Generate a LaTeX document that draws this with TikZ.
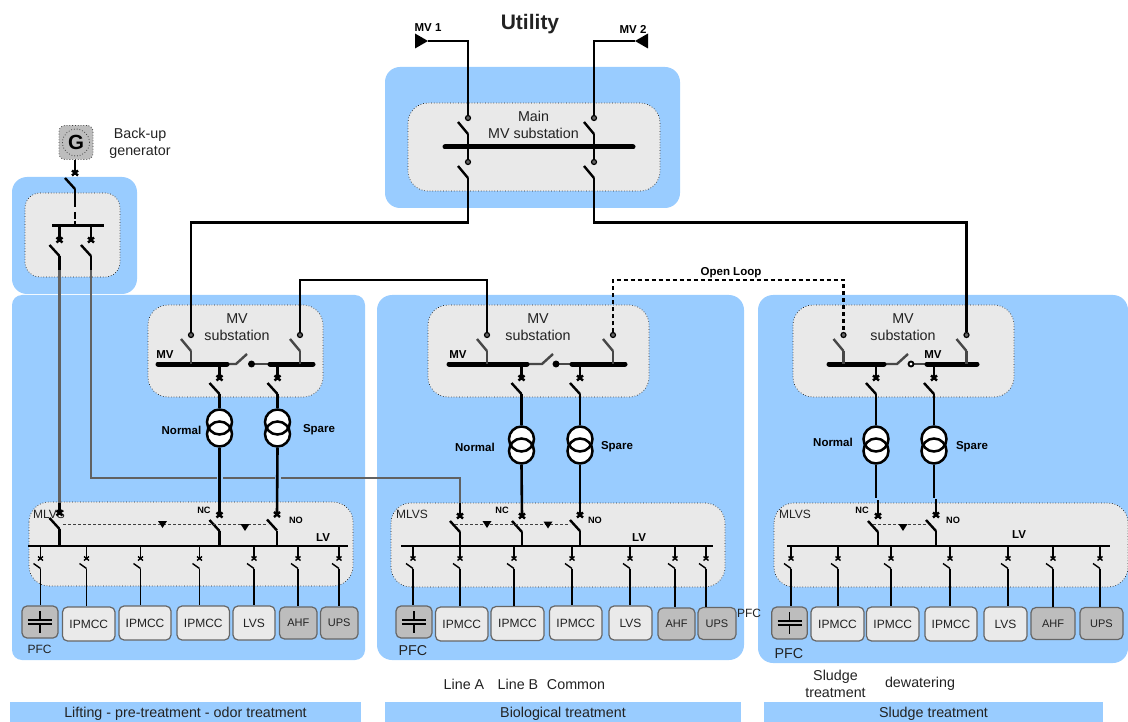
\documentclass[tikz,border=0pt]{standalone}
\usepackage{fontspec}
\setmainfont{Liberation Sans}
\definecolor{panelblue}{HTML}{99CCFF}
\definecolor{panelgrey}{HTML}{E9E9E9}
\definecolor{loaddark}{HTML}{BDBDBD}
\definecolor{loadlight}{HTML}{EAEAEA}
\definecolor{ink}{HTML}{222222}
\begin{document}
\begin{tikzpicture}[x=1pt, y=-1pt,
    bluepanel/.style={fill=panelblue, rounded corners=#1},
    greypanel/.style={fill=panelgrey, draw=ink, line width=.7pt, dotted, rounded corners=#1},
    feedline/.style={draw=black, line width=2.6pt},
    greyline/.style={draw=black!62, line width=2.4pt},
    openline/.style={draw=black, line width=2.4pt, dash pattern=on 4pt off 3pt},
    feeder/.style={draw=black, line width=1.4pt},
    mvbus/.style={draw=black, line width=5pt, line cap=round},
    lvbus/.style={draw=black, line width=2.6pt},
    tiebar/.style={draw=black!72, line width=2.4pt},
    interlock/.style={draw=black!75, line width=.8pt, dash pattern=on 3pt off 2pt},
    crossgap/.style={draw=panelblue, line width=6pt},
    coil/.style={circle, draw=black, line width=2.5pt, minimum size=25pt, inner sep=0pt},
    lbl/.style={text=ink, inner sep=0pt, align=center, font=\fontsize{14.3}{17}\selectfont},
    smalllbl/.style={text=ink, inner sep=0pt, font=\fontsize{12}{14}\selectfont},
    boldlbl/.style={text=black, inner sep=0pt, font=\fontsize{11.5}{14}\selectfont\bfseries},
    tinylbl/.style={text=black, inner sep=0pt, font=\fontsize{9.2}{11}\selectfont\bfseries},
    banner/.style={lbl, fill=panelblue, minimum height=24pt},
    lightload/.style={fill=loadlight, draw=black!60, line width=1.2pt, rounded corners=5pt, inner sep=0pt,
        text=ink, font=\fontsize{12}{14}\selectfont},
    darkload/.style={lightload, fill=loaddark, font=\fontsize{11}{13}\selectfont},
    pics/breaker/.style={code={
        \coordinate (-top) at (0,0);
        \coordinate (-hinge) at (0,16);
        \draw[line width=2.4pt] (-3,-2.5) -- (3,2.5) (-3,2.5) -- (3,-2.5);
        \draw[line width=2.4pt] (-10,5) -- (0,16);
    }},
    pics/feederbrk/.style={code={
        \coordinate (-top) at (0,0);
        \coordinate (-hinge) at (0,10);
        \draw[line width=1.4pt] (-2.5,-2) -- (2.5,2) (-2.5,2) -- (2.5,-2);
        \draw[line width=1.4pt] (-7,5) -- (0,10);
    }},
    pics/isolator/.style={code={
        \coordinate (-dot) at (0,-2.7);
        \coordinate (-hinge) at (0,16);
        \draw[line width=2.4pt, #1] (-10,4) -- (0,16);
        \filldraw[draw=black, fill=black!60, line width=1.2pt] (0,0) circle (2.5pt);
    }},
    pics/lockmark/.style={code={
        \fill[black] (-4.5,-3.5) -- (4.5,-3.5) -- (0,3.5) -- cycle;
    }},
    pics/capsym/.style={code={
        \draw[line width=1.2pt] (-12,-2) -- (12,-2) (-12,2) -- (12,2);
        \draw[line width=1.2pt] (0,-11) -- (0,-2) (0,2) -- (0,11);
    }}
]
    \useasboundingbox (0,0) rectangle (1128,722);

    \fill[bluepanel=15pt] (385,67) rectangle (680,208);
    \fill[bluepanel=15pt] (12,177) rectangle (137,294);
    \fill[bluepanel=10pt] (12,295) rectangle (365,660);
    \fill[bluepanel=15pt] (377,295) rectangle (744,660);
    \fill[bluepanel=15pt] (758,295) rectangle (1128,663);

    \path[greypanel=20pt] (408,103) rectangle (660,191);
    \path[greypanel=15pt] (25,193) rectangle (120,277);
    \foreach \xa/\ya/\xb/\yb in {148/305/323/397, 428/305/649/397, 793/305/1014/397,
        29/502/353/586, 391/503/725/587, 774/503/1128/587} {
        \path[greypanel=20pt] (\xa,\ya) rectangle (\xb,\yb);
    }

    \node[lbl, font=\fontsize{21}{24}\selectfont\bfseries] (utility) at (530,24.5) {Utility};
    \foreach \nm/\cx/\cy/\txt in {main/533.5/125/Main\\MV substation, backup/140/143/Back-up\\generator,
        subA/237/327/MV\\substation, subB/538/327/MV\\substation, subC/903/327/MV\\substation,
        lineA/464/684.5/Line A, lineB/518/684.5/Line B, common/576/684.5/Common,
        sludge/835.5/683.5/Sludge\\treatment, dewater/920/683.5/dewatering,
        pfcB/413/651/PFC, pfcC/789/654/PFC} {
        \node[lbl] (lbl\nm) at (\cx,\cy) {\txt};
    }
    \foreach \nm/\cx/\cy/\txt in {mlvsA/49/514/MLVS, mlvsB/412/514/MLVS, mlvsC/795/514/MLVS,
        pfcA/39.5/649/PFC, pfcX/749/613/PFC} {
        \node[smalllbl] (lbl\nm) at (\cx,\cy) {\txt};
    }
    \foreach \nm/\cx/\cy/\txt in {mv1/428/28/MV 1, mv2/633/29/MV 2, open/731/273/Open Loop,
        mvA/165/355/MV, mvB/458/355/MV, mvC/933/355/MV,
        normalA/181.5/430/Normal, spareA/319/430/Spare,
        normalB/475/447/Normal, spareB/617/447/Spare,
        normalC/833/442/Normal, spareC/972/447/Spare,
        lvA/323/538/LV, lvB/639/538/LV, lvC/1019/535/LV} {
        \node[boldlbl] (lbl\nm) at (\cx,\cy) {\txt};
    }
    \foreach \nm/\cx/\cy/\txt in {ncA/204/510.5/NC, noA/296/520.5/NO, ncB/502/510.5/NC, noB/595/520.5/NO,
        ncC/862/510.5/NC, noC/953/520.5/NO} {
        \node[tinylbl] (lbl\nm) at (\cx,\cy) {\txt};
    }
    \node[banner, minimum width=351pt] (bannerA) at (185.5,714) {Lifting - pre-treatment - odor treatment};
    \node[banner, minimum width=356pt] (bannerB) at (563,714) {Biological treatment};
    \node[banner, minimum width=339pt] (bannerC) at (933.5,714) {Sludge treatment};

    \node[fill=loaddark, draw=black!75, dotted, line width=.8pt, rounded corners=6pt,
        minimum size=34pt, inner sep=0pt] (genset) at (76,142.5) {};
    \node[circle, draw=black!75, dotted, line width=.8pt, minimum size=27pt, inner sep=0pt,
        font=\fontsize{20.5}{24}\selectfont\bfseries] (gencoil) at (genset) {G};

    \fill[black] (415,33.5) -- (428,41) -- (415,48.5) -- cycle;
    \fill[black] (648,33.5) -- (635,41) -- (648,48.5) -- cycle;
    \coordinate (mv1tip) at (428,41);
    \coordinate (mv2tip) at (635,41);
    \foreach \nm/\x/\y in {M1/468/118, M2/594/118, M3/468/162, M4/594/162} {
        \pic (iso\nm) at (\x,\y) {isolator=black};
    }
    \foreach \s/\n/\x in {A/1/191, A/2/300, B/1/487, B/2/613, C/1/843.5, C/2/966.5} {
        \pic (iso\s\n) at (\x,335) {isolator=black!72};
    }
    \coordinate (ringW) at (468,222.5);
    \coordinate (ringE) at (594,222.5);
    \coordinate (ringAB) at (300,280);
    \coordinate (ringBC) at (613,280);
    \draw[feedline] (mv1tip) -| (isoM1-dot);
    \draw[feedline] (mv2tip) -| (isoM2-dot);
    \draw[feedline] (isoM1-hinge) -- (isoM3-dot);
    \draw[feedline] (isoM2-hinge) -- (isoM4-dot);
    \draw[feedline] (isoM3-hinge) -- (ringW) -| (isoA1-dot);
    \draw[feedline] (isoM4-hinge) -- (ringE) -| (isoC2-dot);
    \draw[feedline] (isoA2-dot) -- (ringAB) -| (isoB1-dot);
    \draw[openline] (isoB2-dot) -- (ringBC) -| (isoC1-dot);
    \coordinate (mainbusW) at (445,147);
    \coordinate (mainbusE) at (633,147);
    \draw[mvbus] (mainbusW) -- (mainbusE);

    \foreach \s/\wa/\ea/\hg/\dt/\wb/\eb/\tint in {A/158/227/236/251.5/270/313/black,
        B/449/527/542/556/572/625/black, C/829/884/897/911/927/977/white} {
        \coordinate (mvbus\s1w) at (\wa,364);
        \coordinate (mvbus\s1e) at (\ea,364);
        \coordinate (mvbus\s2w) at (\wb,364);
        \coordinate (mvbus\s2e) at (\eb,364);
        \coordinate (tiehinge\s) at (\hg,364);
        \coordinate (tiedot\s) at (\dt,364);
        \draw[tiebar] (mvbus\s1e) -- (tiehinge\s) -- ++(11,-10);
        \draw[tiebar] (tiedot\s) -- (mvbus\s2w);
        \draw[mvbus] (mvbus\s1w) -- (mvbus\s1e);
        \draw[mvbus] (mvbus\s2w) -- (mvbus\s2e);
        \filldraw[draw=black, fill=\tint, line width=1.8pt] (tiedot\s) circle (2.5pt);
    }
    \foreach \s/\n in {A/1, A/2, B/1, B/2, C/1, C/2} {
        \draw[tiebar] (iso\s\n-hinge) -- (iso\s\n-hinge |- mvbus\s1w);
    }

    \pic (brkG0) at (75,173) {breaker};
    \pic (brkG1) at (59.5,240) {breaker};
    \pic (brkG2) at (91,240) {breaker};
    \coordinate (genbusW) at (52,225.5);
    \coordinate (genbusE) at (104,225.5);
    \coordinate (genstem) at (75,207);
    \coordinate (greyA) at (59.5,270);
    \coordinate (greyB) at (91,270);
    \coordinate (ringG) at (91,478);
    \draw[lvbus] (genbusW) -- (genbusE);
    \draw[feedline] (genset.south -| brkG0-top) -- (brkG0-top);
    \draw[feedline] (brkG0-hinge) -- (genstem);
    \draw[feedline, dash pattern=on 0pt off 5pt on 7pt off 2.5pt on 4pt off 0pt] (genstem) -- (genstem |- genbusW);
    \foreach \n in {1, 2} {
        \draw[feedline] (brkG\n-top |- genbusW) -- (brkG\n-top);
    }
    \draw[feedline] (brkG1-hinge) -- (greyA);
    \draw[feedline] (brkG2-hinge) -- (greyB);

    \foreach \s/\nm/\x/\y in {A/M/59.5/513, A/N/219.5/515, A/S/277/514.5, B/M/460/516, B/N/522/516, B/S/580/515,
        C/N/878/516, C/S/936/515} {
        \pic (mc\s\nm) at (\x,\y) {breaker};
    }
    \coordinate (greyAend) at (59.5,503);
    \coordinate (greyBend) at (460,503);
    \draw[greyline] (greyA) -- (greyAend);
    \draw[greyline] (greyB) -- (ringG) -| (greyBend);
    \draw[feedline] (greyAend) -- (mcAM-top);
    \draw[feedline] (greyBend) -- (mcBM-top);

    \foreach \s/\n/\x/\ty in {A/1/219.5/428, A/2/277.5/428, B/1/521.5/445, B/2/580/445,
        C/1/876/445, C/2/934/445} {
        \pic (brk\s\n) at (\x,378) {breaker};
        \fill[white] (\x,\ty-6) circle (13pt) (\x,\ty+6) circle (13pt);
        \node[coil] (coilt\s\n) at (\x,\ty-6) {};
        \node[coil] (coilb\s\n) at (\x,\ty+6) {};
        \draw[feedline] (brk\s\n-top |- mvbus\s1w) -- (brk\s\n-top);
        \draw[feedline] (brk\s\n-hinge) -- (coilt\s\n.north);
    }
    \foreach \n/\side in {1/N, 2/S} {
        \draw[crossgap] (coilbA\n.south |- ringG) ++(0,-4) -- ++(0,8);
        \draw[feedline] (coilbA\n.south) -- (mcA\side-top);
        \draw[feedline] (coilbB\n.south) -- (mcB\side-top);
        \draw[feeder] (coilbC\n.south) -- ++(0,33);
        \draw[feedline] (mcC\side-top) -- ++(0,-16);
    }

    \foreach \s/\wa/\ea in {A/28/348, B/401/713, C/787/1110} {
        \coordinate (lvbus\s w) at (\wa,546);
        \coordinate (lvbus\s e) at (\ea,546);
        \draw[lvbus] (lvbus\s w) -- (lvbus\s e);
    }
    \foreach \s/\nm in {A/M, A/N, A/S, B/M, B/N, B/S, C/N, C/S} {
        \draw[feedline] (mc\s\nm-hinge) -- (mc\s\nm-hinge |- lvbus\s w);
    }
    \foreach \nm/\xa/\xb in {A/63/268, B/455/570, C/873/926} {
        \coordinate (lock\nm w) at (\xa,524);
        \coordinate (lock\nm e) at (\xb,524);
        \draw[interlock] (lock\nm w) -- (lock\nm e);
    }
    \foreach \x/\y in {162.5/524.5, 245/527.5, 487/524.5, 548/525, 903/527.5} {
        \pic at (\x,\y) {lockmark};
    }

    \foreach \s/\cx/\cy/\bw/\bh in {A/40/622/36/32, B/414/622/36/32, C/789.5/623/35.5/32} {
        \node[darkload, minimum width=\bw pt, minimum height=\bh pt] (load\s1) at (\cx,\cy) {};
        \pic at (load\s1) {capsym};
    }
    \foreach \nm/\cx/\cy/\bw/\txt in {A2/88.75/624/52.5/IPMCC, A3/145/623/52/IPMCC, A4/203.25/623/52.5/IPMCC, A5/254/623/42/LVS,
        B2/461.75/624/52.5/IPMCC, B3/517.5/623.5/53/IPMCC, B4/575.75/623/52.5/IPMCC, B5/630.5/623/43/LVS,
        C2/837.5/624/53/IPMCC, C3/892.75/624/52.5/IPMCC, C4/951/624/52/IPMCC, C5/1005.5/624/43/LVS} {
        \node[lightload, minimum width=\bw pt, minimum height=34pt] (load\nm) at (\cx,\cy) {\txt};
    }
    \foreach \nm/\cx/\cy/\bw/\txt in {A6/298.25/623/37.5/AHF, A7/339.25/623/37.5/UPS,
        B6/676.5/624/37/AHF, B7/717/623.5/38/UPS,
        C6/1053/623.5/44/AHF, C7/1101.5/623.5/43/UPS} {
        \node[darkload, minimum width=\bw pt, minimum height=32pt] (load\nm) at (\cx,\cy) {\txt};
    }
    \foreach \s/\flist in {A/{40.5, 86.5, 140.5, 199.5, 254, 298, 339},
        B/{413, 460, 514, 572, 630, 675, 706},
        C/{791, 838, 891, 950, 1008, 1053, 1100}} {
        \foreach \fx [count=\k] in \flist {
            \pic (fd\s\k) at (\fx,558.5) {feederbrk};
            \draw[feeder] (fd\s\k-top |- lvbus\s w) -- (fd\s\k-top);
            \draw[feeder] (fd\s\k-hinge) -- (fd\s\k-hinge |- load\s\k.north);
        }
    }
\end{tikzpicture}
\end{document}
